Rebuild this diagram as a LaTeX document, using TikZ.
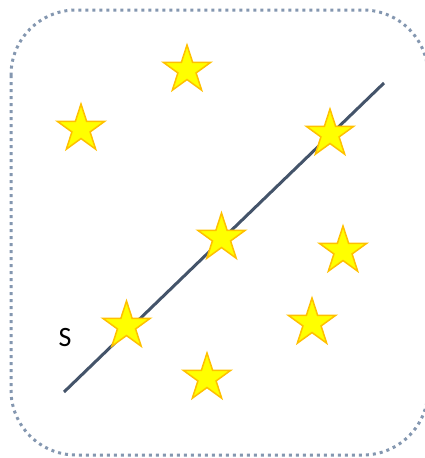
\documentclass[tikz,border=0pt]{standalone}
\usepackage{fontspec}
\setmainfont{Carlito}
\usetikzlibrary{shapes.geometric}
\definecolor{borderc}{HTML}{8497B0}
\definecolor{linec}{HTML}{44546A}
\definecolor{starfill}{HTML}{FFFF00}
\definecolor{starline}{HTML}{FFC000}
\tikzset{
  starbox/.style={star, star points=5, star point ratio=2.618, minimum size=50pt, inner sep=0pt,
    fill=starfill, draw=starline, line width=1.5pt},
}
\begin{document}
\begin{tikzpicture}[x=1pt,y=-1pt]
\useasboundingbox (0,0) rectangle (424,458);
\draw[borderc, line width=3pt, dash pattern=on 3pt off 4pt, rounded corners=65pt] (11,10) rectangle (428,455);
\coordinate (l1) at (64,392);
\coordinate (l2) at (384,83);
\draw[linec, line width=3pt] (l1) -- (l2);
\node[starbox] (s1) at (187,70) {};
\node[starbox] (s2) at (81,129) {};
\node[starbox] (s3) at (330,134) {};
\node[starbox] (s4) at (221.5,238) {};
\node[starbox] (s5) at (343,251) {};
\node[starbox] (s6) at (126.5,326) {};
\node[starbox] (s7) at (312,323) {};
\node[starbox] (s8) at (207,378) {};
\node[font=\fontsize{28}{30}\selectfont, inner sep=0pt] (lbl) at (65,338) {S};
\end{tikzpicture}
\end{document}
